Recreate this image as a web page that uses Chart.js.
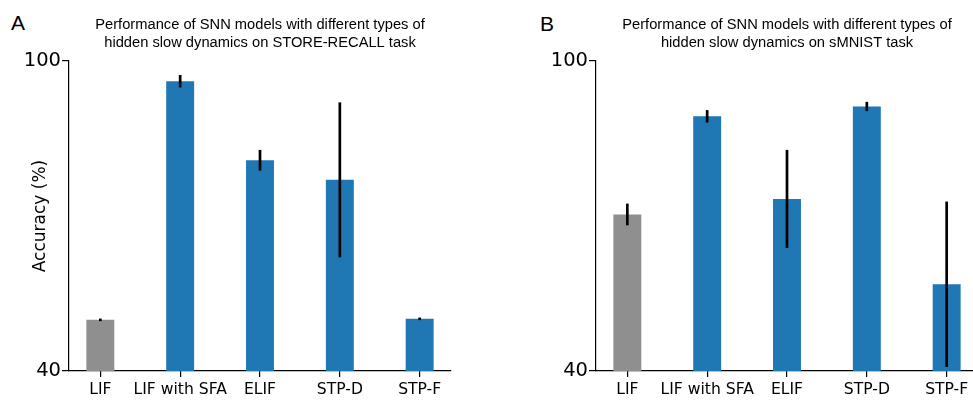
<!DOCTYPE html>
<html>
<head>
<meta charset="utf-8">
<script src="https://cdn.jsdelivr.net/npm/chart.js@4.4.0/dist/chart.umd.min.js"></script>
<style>
  html, body { margin: 0; padding: 0; background: #fff; overflow: hidden; width: 973px; height: 401px; }
  canvas { position: absolute; top: 0; }
  #chartA { left: 0; }
  #chartB { left: 527px; }
  .panel-letter { position: absolute; font: 21px "Liberation Sans", Arial, sans-serif; line-height: 21px; color: #000; }
</style>
</head>
<body>
<div class="panel-letter" style="left:11px; top:12px">A</div>
<div class="panel-letter" style="left:540px; top:13px">B</div>
<canvas id="chartA" width="520" height="401"></canvas>
<canvas id="chartB" width="520" height="401"></canvas>
<script>
const models = ["LIF", "LIF with SFA", "ELIF", "STP-D", "STP-F"];
const storeRecallAcc = [49.9, 96.1, 80.8, 77.0, 50.1];
const storeRecallErr = [0.25, 1.2, 2.0, 15.0, 0.25];
const smnistAcc = [70.3, 89.3, 73.3, 91.2, 56.8];
const smnistErr = [2.1, 1.2, 9.5, 0.9, 16.0];
const yTicks = [40, 100];
const barColors = ["#8f8f8f", "#1f77b4", "#1f77b4", "#1f77b4", "#1f77b4"];

const dejavu = "'DejaVu Sans', sans-serif";
const arial = "'Liberation Sans', Arial, sans-serif";

// vertical std lines on top of each bar
const errorBars = {
  id: "errorBars",
  afterDatasetsDraw(chart) {
    const { ctx } = chart;
    const y = chart.scales.y;
    const ds = chart.data.datasets[0];
    const meta = chart.getDatasetMeta(0);
    ctx.save();
    ctx.strokeStyle = "#000";
    ctx.lineWidth = 2.7;
    meta.data.forEach((bar, i) => {
      const v = ds.data[i].y;
      const e = ds.errors[i];
      ctx.beginPath();
      ctx.moveTo(bar.x, y.getPixelForValue(v - e));
      ctx.lineTo(bar.x, y.getPixelForValue(v + e));
      ctx.stroke();
    });
    ctx.restore();
  }
};

function makeChart(id, titleLines, acc, err, showYTitle) {
  return new Chart(document.getElementById(id), {
    type: "bar",
    data: {
      datasets: [
        {
          data: acc.map((v, i) => ({ x: i, y: v })),
          errors: err,
          backgroundColor: barColors,
          categoryPercentage: 1,
          barPercentage: 0.35,
        },
      ],
    },
    plugins: [errorBars],
    options: {
      responsive: false,
      animation: false,
      layout: { padding: { left: 0, right: 69, top: 0, bottom: 0 } },
      plugins: {
        legend: { display: false },
        tooltip: { enabled: false },
        title: {
          display: true,
          fullSize: false,
          text: titleLines,
          color: "#000",
          font: { family: arial, size: 14.7, weight: "normal", lineHeight: 1.26 },
          padding: { top: 15.5, bottom: 8.5 },
        },
      },
      scales: {
        x: {
          type: "linear",
          min: -0.3925,
          max: 4.3925,
          offset: false,
          afterBuildTicks: (s) => {
            s.ticks = models.map((_, i) => ({ value: i }));
          },
          afterFit: (s) => {
            s.height = 30;
          },
          ticks: {
            autoSkip: false,
            maxRotation: 0,
            padding: 3.5,
            color: "#000",
            font: { family: dejavu, size: 15.6 },
            callback: (v) => models[v],
          },
          grid: { offset: false, drawOnChartArea: false, tickLength: 6, color: "#000", lineWidth: 1.2 },
          border: { color: "#000", width: 1.2 },
        },
        y: {
          min: 40,
          max: 100,
          afterBuildTicks: (s) => {
            s.ticks = yTicks.map((v) => ({ value: v }));
          },
          afterFit: (s) => {
            s.width = 69;
          },
          ticks: { padding: 1, color: "#000", font: { family: dejavu, size: 19.5 } },
          grid: { drawOnChartArea: false, tickLength: 7, color: "#000", lineWidth: 1.2 },
          border: { color: "#000", width: 1.2 },
          title: {
            display: showYTitle,
            text: "Accuracy (%)",
            color: "#000",
            font: { family: dejavu, size: 17 },
            padding: { top: 30 },
          },
        },
      },
    },
  });
}

makeChart(
  "chartA",
  ["Performance of SNN models with different types of", "hidden slow dynamics on STORE-RECALL task"],
  storeRecallAcc,
  storeRecallErr,
  true
);
makeChart(
  "chartB",
  ["Performance of SNN models with different types of", "hidden slow dynamics on sMNIST task"],
  smnistAcc,
  smnistErr,
  false
);
</script>
</body>
</html>
